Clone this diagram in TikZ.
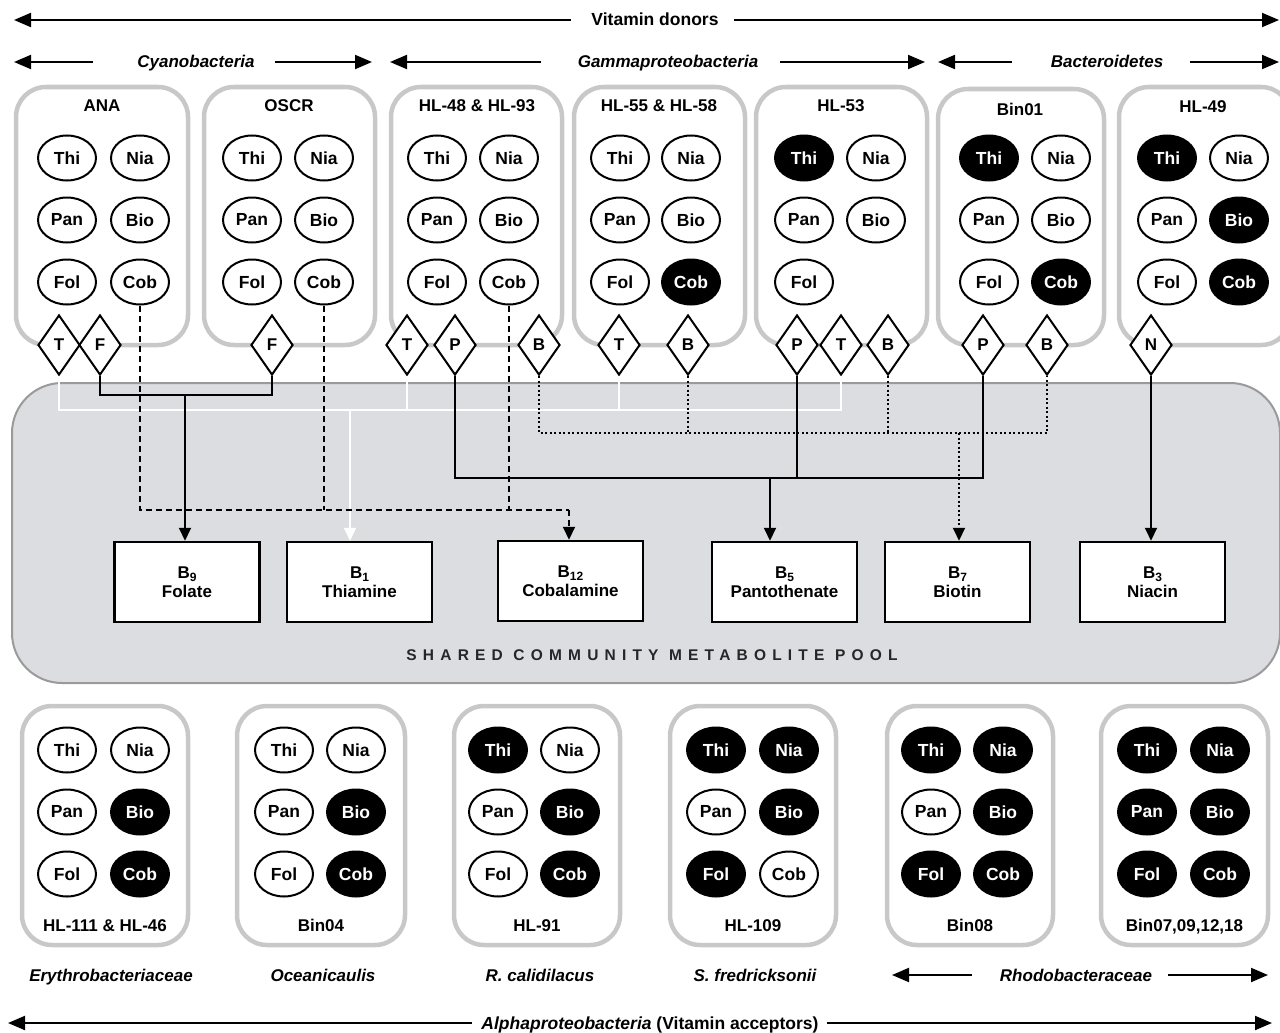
\documentclass[tikz,border=0pt]{standalone}
\usepackage{fontspec}
\setmainfont{Liberation Sans}
\newfontfamily\spacedfont[LetterSpace=40]{Liberation Sans}
\usetikzlibrary{shapes.geometric,arrows.meta}
\definecolor{boxgray}{HTML}{C8C8C8}
\definecolor{poolfill}{HTML}{DCDDE0}
\definecolor{pooledge}{HTML}{9A9A9A}
\newcommand\vsub[1]{\raisebox{-0.4ex}{\fontsize{12}{12}\selectfont #1}}
\newcommand\vitgrid[5]{%
  \foreach \lab/\st [count=\i] in {#5}{%
    \pgfmathsetmacro\vx{#2+mod(\i-1,2)*(#3-#2)}%
    \pgfmathsetmacro\vy{#4+floor((\i-1)/2)*62}%
    \node[v\st] (#1\lab) at (\vx,\vy) {\lab};
  }}
\tikzset{
  dbox/.style={draw=boxgray, line width=4.5pt, rounded corners=30pt},
  vo/.style={ellipse, draw, line width=2pt, minimum width=58pt, minimum height=45pt, inner sep=0pt, fill=white, font=\bfseries\fontsize{17.5}{17.5}\selectfont},
  vf/.style={vo, fill=black, text=white},
  dia/.style={diamond, draw, line width=2pt, fill=white, minimum width=42pt, minimum height=60pt, inner sep=0pt, font=\bfseries\fontsize{17}{17}\selectfont},
  bbox/.style={rectangle, draw, line width=2.5pt, fill=white, minimum width=145pt, minimum height=80pt, align=center, inner sep=0pt, font=\bfseries\fontsize{17}{19}\selectfont},
  ttl/.style={font=\bfseries\fontsize{17}{17}\selectfont, inner sep=0pt, text height=12.5pt, text depth=0.5pt},
  hdr/.style={font=\bfseries\fontsize{17.5}{18}\selectfont, inner sep=0pt, text height=12.5pt, text depth=0.5pt},
  itl/.style={font=\bfseries\itshape\fontsize{17}{18}\selectfont, inner sep=0pt, text height=12.5pt, text depth=0.5pt},
  conn/.style={line width=2pt},
  tip/.style={-{Triangle[width=12pt,length=13pt]}},
  harr/.style={line width=2pt, -{Triangle[width=14pt,length=17pt]}},
  wconn/.style={draw=white, line width=2pt},
  dashc/.style={conn, dash pattern=on 6pt off 4pt},
  dotc/.style={conn, dash pattern=on 2pt off 2.5pt},
}
\begin{document}
\begin{tikzpicture}[x=1pt,y=-1pt]
\useasboundingbox (0,0) rectangle (1280,1033);
\clip (0,0) rectangle (1280,1033);

% ---------- headers ----------
\node[hdr] (vd) at (655,20) {Vitamin donors};
\coordinate (vdL0) at (14,20); \coordinate (vdL1) at (571,20);
\coordinate (vdR0) at (1279,20); \coordinate (vdR1) at (734,20);
\draw[harr] (vdL1) -- (vdL0);
\draw[harr] (vdR1) -- (vdR0);

\node[itl] (cy) at (196,62) {Cyanobacteria};
\coordinate (cyL0) at (14,62); \coordinate (cyL1) at (93,62);
\coordinate (cyR0) at (372,62); \coordinate (cyR1) at (275,62);
\draw[harr] (cyL1) -- (cyL0);
\draw[harr] (cyR1) -- (cyR0);

\node[itl] (ga) at (668,62) {Gammaproteobacteria};
\coordinate (gaL0) at (390,62); \coordinate (gaL1) at (541,62);
\coordinate (gaR0) at (925,62); \coordinate (gaR1) at (780,62);
\draw[harr] (gaL1) -- (gaL0);
\draw[harr] (gaR1) -- (gaR0);

\node[itl] (ba) at (1107,62) {Bacteroidetes};
\coordinate (baL0) at (938,62); \coordinate (baL1) at (1012,62);
\coordinate (baR0) at (1279,62); \coordinate (baR1) at (1190,62);
\draw[harr] (baL1) -- (baL0);
\draw[harr] (baR1) -- (baR0);

% ---------- donor boxes ----------
\draw[dbox] (16,87) rectangle (188,345);
\draw[dbox] (204,87) rectangle (375,345);
\draw[dbox] (391,87) rectangle (562,345);
\draw[dbox] (574,87) rectangle (745,345);
\draw[dbox] (756,87) rectangle (927,345);
\draw[dbox] (938,89) rectangle (1104,345);
\draw[dbox] (1119,87) rectangle (1291,345);

\node[ttl] (tANA) at (102,105) {ANA};
\node[ttl] (tOSCR) at (289,105) {OSCR};
\node[ttl] (tHLa) at (477,105) {HL-48 \& HL-93};
\node[ttl] (tHLb) at (659,105) {HL-55 \& HL-58};
\node[ttl] (tHLc) at (841,105) {HL-53};
\node[ttl] (tBin01) at (1020,109) {Bin01};
\node[ttl] (tHL49) at (1203,107) {HL-49};

\vitgrid{A}{67}{140}{158}{Thi/o,Nia/o,Pan/o,Bio/o,Fol/o,Cob/o}
\vitgrid{O}{252}{324}{158}{Thi/o,Nia/o,Pan/o,Bio/o,Fol/o,Cob/o}
\vitgrid{Ha}{437}{509}{158}{Thi/o,Nia/o,Pan/o,Bio/o,Fol/o,Cob/o}
\vitgrid{Hb}{620}{691}{158}{Thi/o,Nia/o,Pan/o,Bio/o,Fol/o,Cob/f}
\vitgrid{Hc}{804}{876}{158}{Thi/f,Nia/o,Pan/o,Bio/o,Fol/o}
\vitgrid{Bn}{989}{1061}{158}{Thi/f,Nia/o,Pan/o,Bio/o,Fol/o,Cob/f}
\vitgrid{Hd}{1167}{1239}{158}{Thi/f,Nia/o,Pan/o,Bio/f,Fol/o,Cob/f}

% ---------- pool ----------
\draw[fill=poolfill, draw=pooledge, line width=2pt, rounded corners=50pt] (12,383) rectangle (1280,683);
\node[font=\spacedfont\bfseries\fontsize{15.5}{15.5}\selectfont, text=black!85] (pool) at (652,655) {SHARED COMMUNITY METABOLITE POOL};

% ---------- vitamin boxes ----------
\node[bbox] (b9) at (187,582) {B\vsub{9}\\Folate};
\node[bbox] (b1) at (359.5,582) {B\vsub{1}\\Thiamine};
\node[bbox] (b12) at (570.5,581) {B\vsub{12}\\Cobalamine};
\node[bbox] (b5) at (784.5,582) {B\vsub{5}\\Pantothenate};
\node[bbox] (b7) at (957.5,582) {B\vsub{7}\\Biotin};
\node[bbox] (b3) at (1152.5,582) {B\vsub{3}\\Niacin};

% ---------- diamonds ----------
\node[dia] (dAT) at (59,345) {T};
\node[dia] (dAF) at (100,345) {F};
\node[dia] (dOF) at (272,345) {F};
\node[dia] (dHaT) at (407,345) {T};
\node[dia] (dHaP) at (455,345) {P};
\node[dia] (dHaB) at (539,345) {B};
\node[dia] (dHbT) at (619,345) {T};
\node[dia] (dHbB) at (688,345) {B};
\node[dia] (dHcP) at (797,345) {P};
\node[dia] (dHcT) at (841,345) {T};
\node[dia] (dHcB) at (888,345) {B};
\node[dia] (dBP) at (983,345) {P};
\node[dia] (dBB) at (1047,345) {B};
\node[dia] (dHN) at (1151,345) {N};

% ---------- connectors ----------
% thiamine (white)
\coordinate (jT) at (350,410);
\draw[wconn] (dAT.south) |- (dHcT.south |- jT) -- (dHcT.south);
\draw[wconn] (dHaT.south) -- (dHaT.south |- jT);
\draw[wconn] (dHbT.south) -- (dHbT.south |- jT);
\draw[wconn, -{Triangle[width=12pt,length=13pt,fill=white]}] (jT) -- (jT |- b1.north);

% folate
\coordinate (jF) at (185,395);
\draw[conn] (dAF.south) |- (jF) -| (dOF.south);
\draw[conn, tip] (jF) -- (jF |- b9.north);

% cobalamine (dashed)
\coordinate (jC) at (569,510);
\draw[dashc] (ACob.south) |- (jC);
\draw[dashc] (OCob.south) -- (OCob.south |- jC);
\draw[dashc] (HaCob.south) -- (HaCob.south |- jC);
\draw[dashc, tip] (jC) -- (jC |- b12.north);

% biotin (dotted)
\coordinate (jB) at (959,433);
\draw[dotc] (dHaB.south) |- (dBB.south |- jB) -- (dBB.south);
\draw[dotc] (dHbB.south) -- (dHbB.south |- jB);
\draw[dotc] (dHcB.south) -- (dHcB.south |- jB);
\draw[dotc, tip] (jB) -- (jB |- b7.north);

% pantothenate
\coordinate (jP) at (770,478);
\draw[conn] (dHaP.south) |- (dBP.south |- jP) -- (dBP.south);
\draw[conn] (dHcP.south) -- (dHcP.south |- jP);
\draw[conn, tip] (jP) -- (jP |- b5.north);

% niacin
\draw[conn, tip] (dHN.south) -- (dHN.south |- b3.north);

% ---------- acceptor boxes ----------
\draw[dbox] (22,706) rectangle (188,945);
\draw[dbox] (237,706) rectangle (405,945);
\draw[dbox] (454,706) rectangle (620,945);
\draw[dbox] (670,706) rectangle (836,945);
\draw[dbox] (887,706) rectangle (1053,945);
\draw[dbox] (1101,706) rectangle (1268,945);

\vitgrid{Er}{67}{140}{750}{Thi/o,Nia/o,Pan/o,Bio/f,Fol/o,Cob/f}
\vitgrid{Oc}{284}{356}{750}{Thi/o,Nia/o,Pan/o,Bio/f,Fol/o,Cob/f}
\vitgrid{Rc}{498}{570}{750}{Thi/f,Nia/o,Pan/o,Bio/f,Fol/o,Cob/f}
\vitgrid{Sf}{716}{789}{750}{Thi/f,Nia/f,Pan/o,Bio/f,Fol/f,Cob/o}
\vitgrid{Re}{931}{1003}{750}{Thi/f,Nia/f,Pan/o,Bio/f,Fol/f,Cob/f}
\vitgrid{Rf}{1147}{1220}{750}{Thi/f,Nia/f,Pan/f,Bio/f,Fol/f,Cob/f}

\node[ttl] (lEr) at (105,925) {HL-111 \& HL-46};
\node[ttl] (lOc) at (321,925) {Bin04};
\node[ttl] (lRc) at (537,925) {HL-91};
\node[ttl] (lSf) at (753,925) {HL-109};
\node[ttl] (lRe) at (970,925) {Bin08};
\node[ttl] (lRf) at (1184.5,925) {Bin07,09,12,18};

\node[itl] (nEr) at (111,975) {Erythrobacteriaceae};
\node[itl] (nOc) at (323,975) {Oceanicaulis};
\node[itl] (nRc) at (540,975) {R. calidilacus};
\node[itl] (nSf) at (755,975) {S. fredricksonii};
\node[itl] (nRh) at (1076,975) {Rhodobacteraceae};
\coordinate (rhL0) at (892,975); \coordinate (rhL1) at (972,975);
\coordinate (rhR0) at (1268,975); \coordinate (rhR1) at (1168,975);
\draw[harr] (rhL1) -- (rhL0);
\draw[harr] (rhR1) -- (rhR0);

\node[hdr] (al) at (650,1023) {\itshape Alphaproteobacteria\upshape{} (Vitamin acceptors)};
\coordinate (alL0) at (8,1023); \coordinate (alL1) at (472,1023);
\coordinate (alR0) at (1272,1023); \coordinate (alR1) at (827,1023);
\draw[harr] (alL1) -- (alL0);
\draw[harr] (alR1) -- (alR0);
\end{tikzpicture}
\end{document}
